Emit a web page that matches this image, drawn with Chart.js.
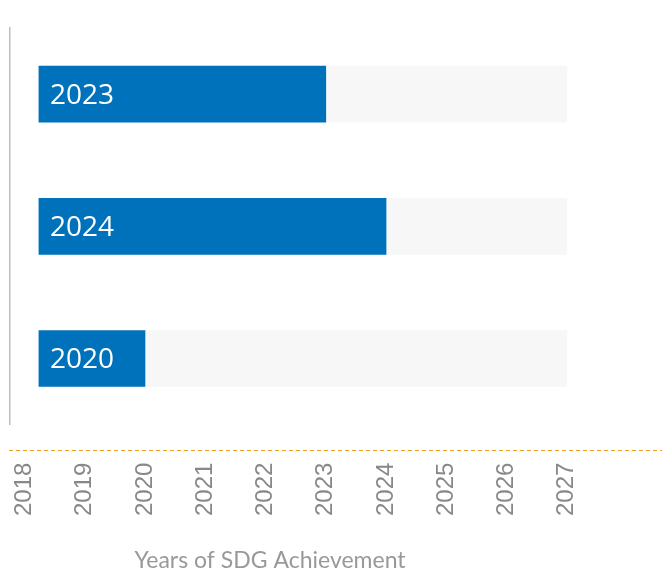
<!DOCTYPE html>
<html>
<head>
<meta charset="utf-8">
<script src="https://cdn.jsdelivr.net/npm/chart.js@4.4.0/dist/chart.umd.min.js"></script>
<style>
  html, body { margin: 0; padding: 0; background: #fff; }
  #wrap { width: 662px; height: 576px; }
</style>
</head>
<body>
<div id="wrap"><canvas id="chart1"></canvas></div>
<script>
    var categories = ['Indicator 1', 'Indicator 2', 'Indicator 3'];
    var achievementYears = [2023, 2024, 2020];
    var targetYears = [2027, 2027, 2027];
    var barStart = 2018.24;
    var tickYears = [2018, 2019, 2020, 2021, 2022, 2023, 2024, 2025, 2026, 2027];
    var axisTitle = 'Years of SDG Achievement';

    var xMin = 2017.76;
    var xMax = 2027.6;

    // bar value text + dashed baseline + axis title
    var extras = {
        id: 'extras',
        afterDatasetsDraw: function(chart) {
            var ctx = chart.ctx;
            var meta = chart.getDatasetMeta(0);
            ctx.save();
            ctx.fillStyle = '#fff';
            ctx.font = '28px "Open Sans"';
            ctx.textBaseline = 'middle';
            ctx.textAlign = 'left';
            meta.data.forEach(function(bar, i) {
                ctx.fillText(String(achievementYears[i]), bar.base + 11, bar.y + 2);
            });
            ctx.restore();
        },
        afterDraw: function(chart) {
            var ctx = chart.ctx;
            var area = chart.chartArea;
            var y = Math.round(area.bottom + 25) + 0.5;
            ctx.save();
            ctx.strokeStyle = '#eea01e';
            ctx.lineWidth = 1;
            ctx.setLineDash([4, 3]);
            ctx.beginPath();
            ctx.moveTo(area.left - 1, y);
            ctx.lineTo(chart.width, y);
            ctx.stroke();
            ctx.setLineDash([]);
            ctx.fillStyle = '#999';
            ctx.font = '23px Lato';
            ctx.textAlign = 'center';
            ctx.textBaseline = 'middle';
            ctx.fillText(axisTitle, 270, 561);
            ctx.restore();
        }
    };

    var ctx = document.getElementById('chart1').getContext('2d');
    var myChart = new Chart(ctx, {
        type: 'bar',
        data: {
            labels: categories,
            datasets: [{
                label: 'Achieved',
                data: achievementYears.map(function(v) { return [barStart, v]; }),
                backgroundColor: '#0072bc',
                barThickness: 56,
                grouped: false,
                order: 0
            }, {
                label: 'Target',
                data: targetYears.map(function(v) { return [barStart, v]; }),
                backgroundColor: '#f7f7f7',
                barThickness: 56,
                grouped: false,
                order: 1
            }]
        },
        plugins: [extras],
        options: {
            indexAxis: 'y',
            responsive: true,
            maintainAspectRatio: false,
            animation: false,
            layout: {
                padding: { left: 0, right: 59, top: 28, bottom: 30 }
            },
            plugins: {
                legend: { display: false },
                tooltip: { enabled: false }
            },
            scales: {
                x: {
                    type: 'linear',
                    min: xMin,
                    max: xMax,
                    grid: { display: false },
                    border: { display: false },
                    afterBuildTicks: function(scale) {
                        scale.ticks = tickYears.map(function(v) { return { value: v }; });
                    },
                    afterFit: function(scale) {
                        scale.paddingLeft = 0;
                        scale.paddingRight = 0;
                    },
                    ticks: {
                        minRotation: 90,
                        maxRotation: 90,
                        padding: 30,
                        color: '#888',
                        font: { family: 'Liberation Sans', size: 24 },
                        callback: function(v) { return String(v); }
                    }
                },
                y: {
                    grid: { display: false },
                    border: { display: true, color: '#bdbdbd', width: 1.5 },
                    ticks: { display: false },
                    afterFit: function(scale) {
                        scale.width = 10;
                    }
                }
            }
        }
    });
</script>
</body>
</html>
